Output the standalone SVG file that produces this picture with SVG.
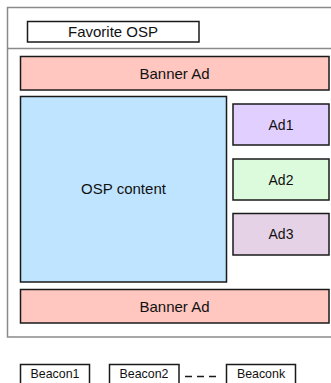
<svg xmlns="http://www.w3.org/2000/svg" width="331" height="383" viewBox="0 0 331 383">
  <style>
    .frame { fill: #ffffff; stroke: #8a8a8a; stroke-width: 1.5; }
    .box { stroke: #1a1a1a; stroke-width: 1.5; }
    .lbl { font-family: "Liberation Sans", Arial, sans-serif; font-size: 15px; fill: #111; text-anchor: middle; }
    .small { font-size: 12.4px; }
    .ad { font-size: 14px; }
  </style>
  <rect width="331" height="383" fill="#ffffff"/>

  <!-- page frame with header divider -->
  <g id="page">
    <rect class="frame" x="7.5" y="7.5" width="340" height="329.5"/>
    <line x1="7.5" y1="48.5" x2="331" y2="48.5" stroke="#8a8a8a" stroke-width="1.5"/>
  </g>

  <g id="favorite">
    <rect class="box" x="27.5" y="21.5" width="171.5" height="20.5" fill="#ffffff"/>
    <text class="lbl" x="113" y="37">Favorite OSP</text>
  </g>

  <g id="banner-top">
    <rect class="box" x="20.5" y="56.5" width="308.5" height="33.5" fill="#ffc7c0"/>
    <text class="lbl" x="174.5" y="79">Banner Ad</text>
  </g>

  <g id="content">
    <rect class="box" x="20.5" y="96.5" width="206" height="185.5" fill="#bfe4ff"/>
    <text class="lbl" x="123.5" y="194">OSP content</text>
  </g>

  <g id="ad1">
    <rect class="box" x="233" y="104" width="96" height="41" fill="#e1cfff"/>
    <text class="lbl ad" x="281" y="129.5">Ad1</text>
  </g>

  <g id="ad2">
    <rect class="box" x="233" y="159" width="96" height="41" fill="#dcfadc"/>
    <text class="lbl ad" x="281" y="184.5">Ad2</text>
  </g>

  <g id="ad3">
    <rect class="box" x="233" y="213.5" width="96" height="41.5" fill="#e6d2e6"/>
    <text class="lbl ad" x="281" y="239">Ad3</text>
  </g>

  <g id="banner-bottom">
    <rect class="box" x="20.5" y="289.5" width="308.5" height="33.5" fill="#ffc7c0"/>
    <text class="lbl" x="174.5" y="312">Banner Ad</text>
  </g>

  <g id="beacon1">
    <rect class="box" x="20.5" y="364.5" width="69" height="24" fill="#ffffff"/>
    <text class="lbl small" x="55" y="378">Beacon1</text>
  </g>

  <g id="beacon2">
    <rect class="box" x="109.5" y="364.5" width="69.5" height="24" fill="#ffffff"/>
    <text class="lbl small" x="144" y="378">Beacon2</text>
  </g>

  <g id="beaconk">
    <rect class="box" x="226.5" y="364.5" width="69" height="24" fill="#ffffff"/>
    <text class="lbl small" x="261" y="378">Beaconk</text>
  </g>

  <!-- ellipsis link between the beacons -->
  <g id="connectors">
    <line x1="185" y1="376.5" x2="216" y2="376.5" stroke="#1a1a1a" stroke-width="1.5" stroke-dasharray="7 5"/>
  </g>
</svg>
